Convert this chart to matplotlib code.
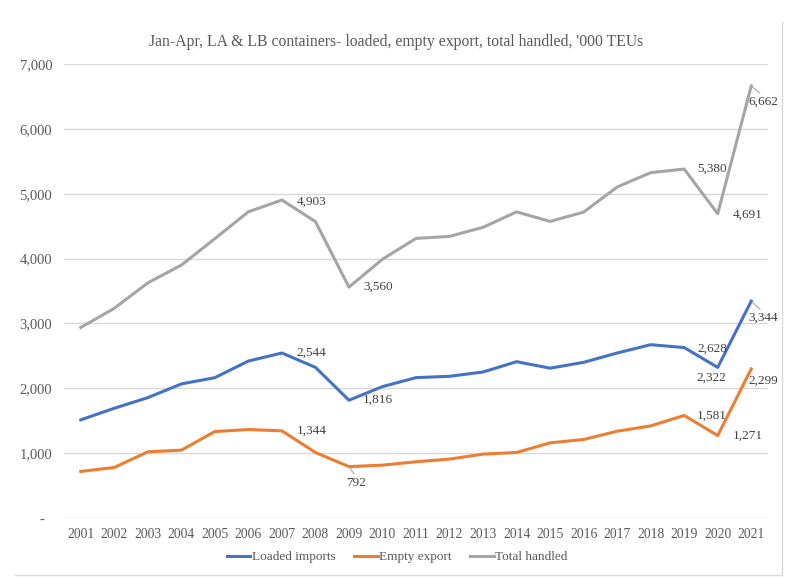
import matplotlib.pyplot as plt
from matplotlib.lines import Line2D
from matplotlib.ticker import FuncFormatter

plt.rcParams['font.family'] = ['Liberation Serif', 'DejaVu Serif']

# data ('000 TEUs)
years = list(range(2001, 2022))
loaded_imports = [1513, 1692, 1856, 2067, 2164, 2420, 2544, 2323, 1816, 2026, 2164,
                  2185, 2251, 2410, 2310, 2400, 2544, 2672, 2628, 2322, 3344]
empty_export = [718, 779, 1020, 1046, 1333, 1364, 1344, 1010, 792, 815, 867,
                908, 985, 1010, 1159, 1210, 1338, 1420, 1581, 1271, 2299]
total_handled = [2938, 3233, 3625, 3899, 4307, 4721, 4903, 4570, 3560, 3990, 4311,
                 4342, 4482, 4720, 4573, 4716, 5103, 5325, 5380, 4691, 6662]

title = "Jan-Apr, LA & LB containers- loaded, empty export, total handled, '000 TEUs"

# labelled points: (series, year, dx px, dy px, ha, leader line)
labels = [
    ('total', 2007, 15, -2, 'left', False),
    ('total', 2009, 14, 0, 'left', False),
    ('total', 2019, 13, 0, 'left', False),
    ('total', 2020, 15, -1, 'left', False),
    ('total', 2021, -3, -16, 'left', True),
    ('loaded', 2007, 15, 0, 'left', False),
    ('loaded', 2009, 14, 0, 'left', False),
    ('loaded', 2019, 13, -1, 'left', False),
    ('loaded', 2020, -6, -10, 'center', False),
    ('loaded', 2021, -3, -17, 'left', True),
    ('empty', 2007, 15, 0, 'left', False),
    ('empty', 2009, 7, -16, 'center', True),
    ('empty', 2019, 13, 0, 'left', False),
    ('empty', 2020, 15, 0, 'left', False),
    ('empty', 2021, -3, -12, 'left', False),
]

blue = '#4472C4'
orange = '#ED7D31'
gray = '#A5A5A5'
txt = '#595959'

fig = plt.figure(figsize=(7.99, 5.80), dpi=100)
ax = fig.add_axes([64 / 799, 1 - 518 / 580, (768 - 64) / 799, (518 - 64) / 580])

series = {'loaded': loaded_imports, 'empty': empty_export, 'total': total_handled}
ax.plot(years, loaded_imports, color=blue, lw=2.2, label='Loaded imports', solid_joinstyle='round')
ax.plot(years, empty_export, color=orange, lw=2.2, label='Empty export', solid_joinstyle='round')
ax.plot(years, total_handled, color=gray, lw=2.2, label='Total handled', solid_joinstyle='round')

ax.set_xlim(2000.5, 2021.5)
ax.set_ylim(0, 7000)
ax.set_yticks(range(0, 7001, 1000))
ax.set_xticks(years)
ax.yaxis.set_major_formatter(FuncFormatter(lambda v, p: '-  ' if v == 0 else f'{v:,.0f}'))
ax.grid(axis='y', color='#D9D9D9', lw=1)
ax.set_axisbelow(True)
for s in ax.spines.values():
    s.set_visible(False)
ax.tick_params(axis='y', length=0, pad=8.5, labelsize=10.5, labelcolor=txt)
ax.tick_params(axis='x', length=0, pad=7, labelsize=9.8, labelcolor=txt)

for name, yr, dx, dy, ha, leader in labels:
    v = series[name][years.index(yr)]
    kw = {}
    if leader:
        kw['arrowprops'] = dict(arrowstyle='-', color='#A5A5A5', lw=0.8,
                                shrinkA=0, shrinkB=1, relpos=(0.5, 1))
    ax.annotate(f'{v:,}', (yr, v), xytext=(dx, dy), textcoords='offset pixels',
                ha=ha, va='center', fontsize=9.5, color='#404040', **kw)

fig.text(396 / 799, 1 - 42 / 580, title, ha='center', va='center', fontsize=11.3, color=txt)

fig.legend(loc='center', bbox_to_anchor=(397 / 799, 1 - 557 / 580), ncol=3, frameon=False,
           fontsize=9.5, handlelength=1.8, handletextpad=0.1, columnspacing=1.4,
           labelcolor=txt)

# chart frame edges
fig.add_artist(Line2D([782 / 799, 782 / 799], [1 - 22 / 580, 1 - 575 / 580],
                      transform=fig.transFigure, color='#D9D9D9', lw=1))
fig.add_artist(Line2D([15 / 799, 782 / 799], [1 - 575 / 580, 1 - 575 / 580],
                      transform=fig.transFigure, color='#D9D9D9', lw=1))

fig.savefig('out.png', dpi=100, facecolor='white')
